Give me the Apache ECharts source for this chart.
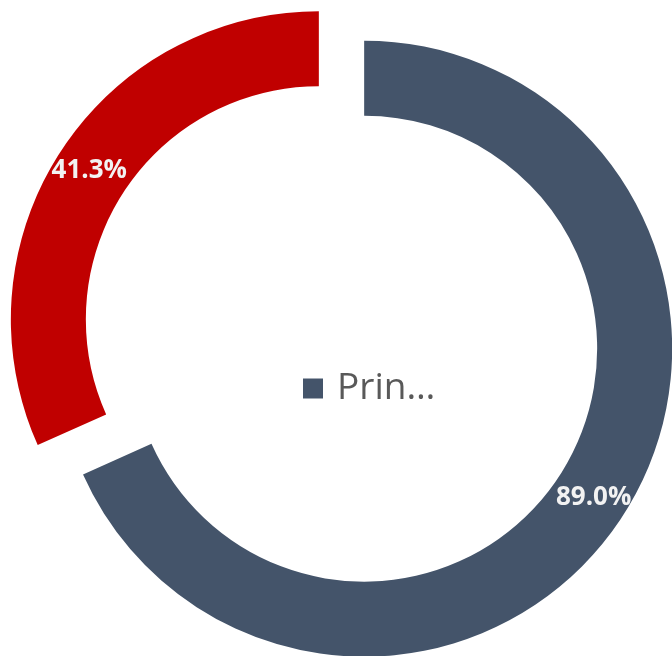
<!DOCTYPE html>
<html>
<head>
<meta charset="utf-8">
<script src="https://cdn.jsdelivr.net/npm/echarts@6/dist/echarts.min.js"></script>
<style>html,body{margin:0;padding:0;background:#fff}#c{width:672px;height:656px}</style>
</head>
<body>
<div id="c"></div>
<script>
const categories = ['Principal', 'Other'];
const values = [89.0, 41.3];
const colors = ['#44546A', '#C00000'];
const legendLabel = 'Prin…';

const chart = echarts.init(document.getElementById('c'), null, {renderer: 'canvas'});
chart.setOption({
  animation: false,
  backgroundColor: '#ffffff',
  legend: {
    data: [categories[0]],
    left: 298,
    top: 365,
    itemWidth: 20,
    itemHeight: 20,
    itemGap: 10,
    icon: 'rect',
    selectedMode: false,
    formatter: function () { return legendLabel; },
    textStyle: {fontFamily: 'Open Sans', fontSize: 37, color: '#595959', padding: [0, 0, 0, 9]}
  },
  series: [{
    type: 'pie',
    center: [341.5, 334],
    radius: [233, 308],
    startAngle: 90,
    clockwise: true,
    selectedMode: 'multiple',
    selectedOffset: 27,
    emphasis: {disabled: true},
    label: {
      show: true,
      position: 'inside',
      formatter: function (p) { return p.value.toFixed(1) + '%'; },
      fontFamily: 'Open Sans',
      fontWeight: 'bold',
      fontSize: 26,
      color: '#F2F2F2'
    },
    labelLine: {show: false},
    data: categories.map((c, i) => ({name: c, value: values[i], selected: true, itemStyle: {color: colors[i]}}))
  }]
});
</script>
</body>
</html>
